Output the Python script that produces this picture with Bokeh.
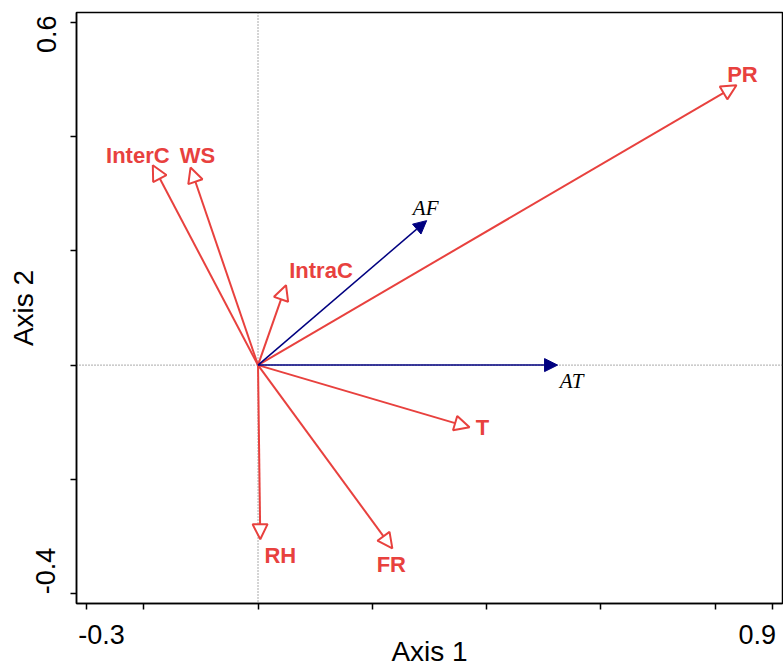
from bokeh.plotting import figure
from bokeh.models import Arrow, NormalHead, ColumnDataSource, Span, FixedTicker
from bokeh.embed import file_html
from bokeh.resources import INLINE
from bokeh.core.properties import value

# ---- data ----
env_names = ["PR", "InterC", "WS", "IntraC", "T", "FR", "RH"]
env_x = [0.837, -0.184, -0.118, 0.049, 0.370, 0.235, 0.004]
env_y = [0.490, 0.350, 0.346, 0.140, -0.109, -0.321, -0.305]

sp_names = ["AF", "AT"]
sp_x = [0.295, 0.524]
sp_y = [0.253, 0.0]

x_ticks = [-0.3, -0.2, 0.0, 0.2, 0.4, 0.6, 0.8, 0.9]
x_tick_text = ["-0.3", "", "", "", "", "", "", "0.9"]
y_ticks = [-0.4, -0.2, 0.0, 0.2, 0.4, 0.6]
y_tick_text = ["-0.4", "", "", "", "", "0.6"]

# ---- style ----
RED = "#E8413E"
NAVY = "#000080"
NB = "\u00a0"
# (leading, trailing) padding that nudges the end labels inward, as in the reference
x_pad = {"-0.3": (4, 0), "0.9": (0, 1)}
y_pad = {"0.6": (0, 2), "-0.4": (6, 0)}
env_dx = [6, -15, 7, 35, 13, -1, 20]
env_dy = [-11, -10, -12, -15, 0, 16, 16]
sp_dx = [-1, 14]
sp_dy = [-13, 16]

p = figure(width=783, height=666, frame_width=706, frame_height=591,
           x_range=(-0.3175, 0.9175), y_range=(-0.4175, 0.6175),
           output_backend="svg", toolbar_location=None,
           min_border_left=76, min_border_right=1, min_border_top=12, min_border_bottom=63)
p.background_fill_color = "white"
p.border_fill_color = "white"
p.outline_line_color = "black"
p.outline_line_width = 1.5
p.xgrid.visible = False
p.ygrid.visible = False


def padded(s, pad):
    if s in pad:
        a, b = pad[s]
        return NB * a + s + NB * b
    return s


for ax, ticks, texts, pad in ((p.xaxis[0], x_ticks, x_tick_text, x_pad),
                              (p.yaxis[0], y_ticks, y_tick_text, y_pad)):
    ax.ticker = FixedTicker(ticks=ticks)
    ax.major_label_overrides = {t: padded(s, pad) for t, s in zip(ticks, texts)}
    ax.minor_tick_line_color = None
    ax.major_tick_in = 0
    ax.major_tick_out = 6
    ax.major_tick_line_width = 1.5
    ax.axis_line_width = 1.5
    ax.major_label_text_font = "Liberation Sans"
    ax.major_label_text_font_size = "27px"
    ax.axis_label_text_font = "Liberation Sans"
    ax.axis_label_text_font_size = "28px"
    ax.axis_label_text_font_style = "normal"
    ax.major_label_text_color = "black"
    ax.axis_label_text_color = "black"
    ax.axis_line_color = "black"
    ax.major_tick_line_color = "black"

p.xaxis.axis_label = "Axis 1"
p.yaxis.axis_label = "Axis 2"
p.yaxis.major_label_orientation = "vertical"
p.xaxis.major_label_standoff = 10
p.xaxis.axis_label_standoff = -17
p.yaxis.major_label_standoff = 9
p.yaxis.axis_label_standoff = -10

# reference lines
p.add_layout(Span(location=0, dimension="height", line_color="#555555", line_width=1, line_dash="1 2"))
p.add_layout(Span(location=0, dimension="width", line_color="#555555", line_width=1, line_dash="1 2"))

# environmental arrows (red, open heads)
env_src = ColumnDataSource(dict(x0=[0.0] * len(env_x), y0=[0.0] * len(env_y), x1=env_x, y1=env_y,
                                name=env_names, dx=env_dx, dy=env_dy))
p.add_layout(Arrow(source=env_src, x_start="x0", y_start="y0", x_end="x1", y_end="y1",
                   line_color=RED, line_width=2,
                   end=NormalHead(size=15, fill_color="white", line_color=RED, line_width=2)))
p.text(x="x1", y="y1", text="name", source=env_src, x_offset="dx", y_offset="dy",
       text_color=RED, text_font=value("Liberation Sans"), text_font_style="bold",
       text_font_size="22px", text_align="center", text_baseline="middle")

# species arrows (navy, filled heads)
sp_src = ColumnDataSource(dict(x0=[0.0] * len(sp_x), y0=[0.0] * len(sp_y), x1=sp_x, y1=sp_y,
                               name=sp_names, dx=sp_dx, dy=sp_dy))
p.add_layout(Arrow(source=sp_src, x_start="x0", y_start="y0", x_end="x1", y_end="y1",
                   line_color=NAVY, line_width=1.5,
                   end=NormalHead(size=13, fill_color=NAVY, line_color=NAVY, line_width=1)))
p.text(x="x1", y="y1", text="name", source=sp_src, x_offset="dx", y_offset="dy",
       text_color="black", text_font=value("Liberation Serif"), text_font_style="italic",
       text_font_size="21px", text_align="center", text_baseline="middle")

open("out.html", "w").write(file_html(p, INLINE))
